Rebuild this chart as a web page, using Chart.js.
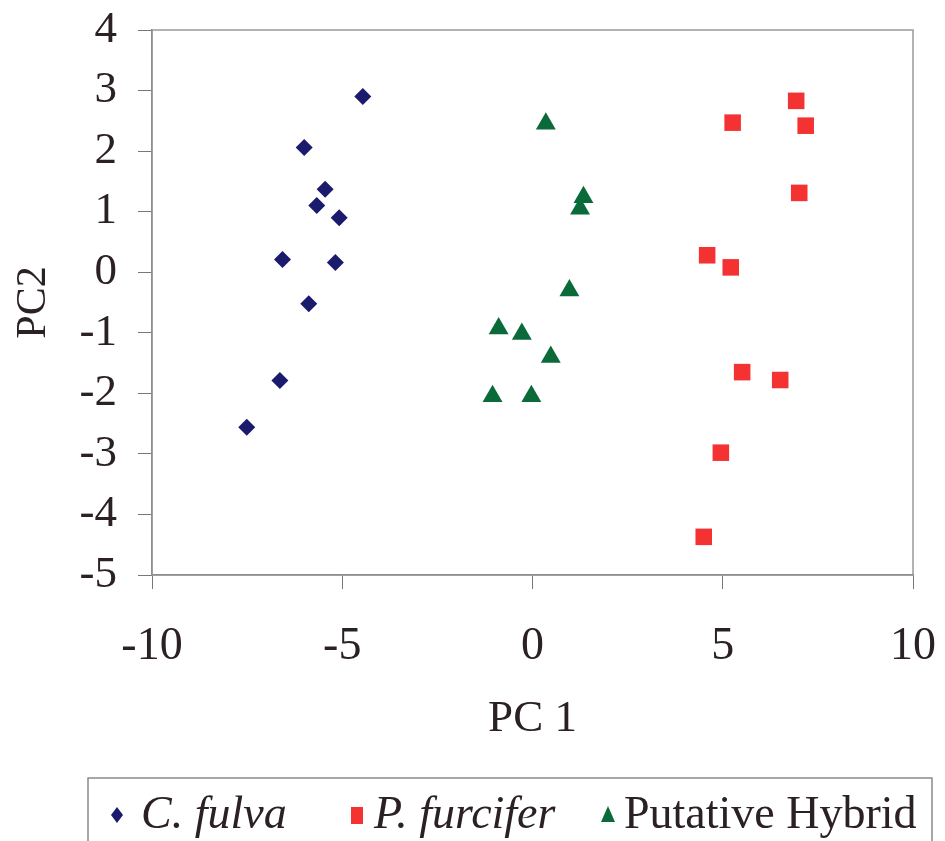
<!DOCTYPE html>
<html>
<head>
<meta charset="utf-8">
<script src="https://cdn.jsdelivr.net/npm/chart.js@4.4.0/dist/chart.umd.min.js"></script>
<style>
  html, body { margin: 0; padding: 0; background: #fff; }
  #wrap { width: 945px; height: 841px; position: relative; }
</style>
</head>
<body>
<div id="wrap"><canvas id="pcaChart"></canvas></div>
<script>
// PC scores
const fulvaPC1 = [-4.46, -6.0, -5.45, -5.67, -5.08, -6.57, -5.18, -5.88, -6.64, -7.51];
const fulvaPC2 = [2.90, 2.06, 1.37, 1.10, 0.90, 0.21, 0.16, -0.52, -1.79, -2.56];

const furciferPC1 = [6.93, 5.26, 7.18, 7.01, 4.59, 5.21, 5.51, 6.51, 4.95, 4.50];
const furciferPC2 = [2.83, 2.47, 2.42, 1.31, 0.28, 0.08, -1.65, -1.78, -2.98, -4.37];

const hybridPC1 = [0.35, 1.34, 1.25, 0.97, -0.89, -0.28, 0.48, -1.05, -0.03];
const hybridPC2 = [2.45, 1.24, 1.05, -0.30, -0.93, -1.02, -1.40, -2.05, -2.05];

const seriesNames = ["C. fulva", "P. furcifer", "Putative Hybrid"];
const italicNames = [true, true, false];
const xTicks = [-10, -5, 0, 5, 10];
const yTicks = [4, 3, 2, 1, 0, -1, -2, -3, -4, -5];

const textColor = "#2b2024";
const serif = "'Liberation Serif', 'Times New Roman', serif";

function toPoints(xs, ys) {
  return xs.map((x, i) => ({ x: x, y: ys[i] }));
}

// plot frame: grey box round the chart area
const frame = {
  id: "frame",
  beforeDatasetsDraw(chart) {
    const a = chart.chartArea;
    const ctx = chart.ctx;
    ctx.save();
    ctx.strokeStyle = "#9a9a9a";
    ctx.lineWidth = 1.5;
    ctx.strokeRect(a.left, a.top, a.right - a.left, a.bottom - a.top);
    ctx.restore();
  }
};

// boxed legend under the plot, species names in italics
const boxLegend = {
  id: "boxLegend",
  afterDraw(chart) {
    const ctx = chart.ctx;
    ctx.save();
    ctx.strokeStyle = "#8a8a8a";
    ctx.lineWidth = 1.5;
    ctx.strokeRect(88, 778, 844, 80);
    const markX = [117, 357, 608];
    const textX = [141, 374, 624];
    const cy = 815;
    chart.data.datasets.forEach((ds, i) => {
      ctx.fillStyle = ds.backgroundColor;
      ctx.beginPath();
      if (ds.pointStyle === "rectRot") {
        ctx.moveTo(markX[i], cy - 8);
        ctx.lineTo(markX[i] + 6, cy);
        ctx.lineTo(markX[i], cy + 8);
        ctx.lineTo(markX[i] - 6, cy);
      } else if (ds.pointStyle === "rect") {
        ctx.rect(markX[i] - 6, cy - 8, 12, 17);
      } else {
        ctx.moveTo(markX[i], cy - 9);
        ctx.lineTo(markX[i] + 7, cy + 7);
        ctx.lineTo(markX[i] - 7, cy + 7);
      }
      ctx.closePath();
      ctx.fill();
      ctx.fillStyle = textColor;
      ctx.font = (italicNames[i] ? "italic " : "") + "46px " + serif;
      ctx.textBaseline = "middle";
      ctx.textAlign = "left";
      ctx.fillText(ds.label, textX[i], cy + 1);
    });
    ctx.restore();
  }
};

const ctx = document.getElementById("pcaChart").getContext("2d");
new Chart(ctx, {
  type: "scatter",
  data: {
    datasets: [
      {
        label: seriesNames[0],
        data: toPoints(fulvaPC1, fulvaPC2),
        pointStyle: "rectRot",
        pointRadius: 8.5,
        backgroundColor: "#1b1b6e",
        borderColor: "#1b1b6e",
        borderWidth: 0
      },
      {
        label: seriesNames[1],
        data: toPoints(furciferPC1, furciferPC2),
        pointStyle: "rect",
        pointRadius: 11.7,
        backgroundColor: "#f43232",
        borderColor: "#f43232",
        borderWidth: 0
      },
      {
        label: seriesNames[2],
        data: toPoints(hybridPC1, hybridPC2),
        pointStyle: "triangle",
        pointRadius: 11.5,
        backgroundColor: "#0b6a3a",
        borderColor: "#0b6a3a",
        borderWidth: 0
      }
    ]
  },
  options: {
    responsive: true,
    maintainAspectRatio: false,
    animation: false,
    layout: { padding: { top: 30, right: 32, left: 0, bottom: 0 } },
    plugins: {
      legend: { display: false },
      tooltip: { enabled: false }
    },
    scales: {
      x: {
        type: "linear",
        min: -10,
        max: 10,
        afterBuildTicks(scale) {
          scale.ticks = xTicks.map(v => ({ value: v }));
        },
        afterFit(scale) {
          scale.height = 266;
          scale.paddingLeft = 0;
          scale.paddingRight = 0;
        },
        grid: {
          drawOnChartArea: false,
          drawTicks: true,
          tickLength: 14,
          color: "#777"
        },
        border: { color: "#6a6a6a", width: 1.5 },
        ticks: {
          color: textColor,
          font: { family: serif, size: 46 },
          padding: 30,
          maxRotation: 0
        },
        title: {
          display: true,
          text: "PC 1",
          color: textColor,
          font: { family: serif, size: 45 },
          padding: { top: 0, bottom: 95 }
        }
      },
      y: {
        type: "linear",
        min: -5,
        max: 4,
        afterBuildTicks(scale) {
          scale.ticks = yTicks.map(v => ({ value: v }));
        },
        afterFit(scale) {
          scale.width = 152;
          scale.paddingTop = 0;
          scale.paddingBottom = 0;
        },
        grid: {
          drawOnChartArea: false,
          drawTicks: true,
          tickLength: 14,
          color: "#777"
        },
        border: { color: "#6a6a6a", width: 1.5 },
        ticks: {
          color: textColor,
          font: { family: serif, size: 45 },
          padding: 21
        },
        title: {
          display: true,
          text: "PC2",
          color: textColor,
          font: { family: serif, size: 42 },
          padding: { top: 9, bottom: 0 }
        }
      }
    }
  },
  plugins: [frame, boxLegend]
});
</script>
</body>
</html>
